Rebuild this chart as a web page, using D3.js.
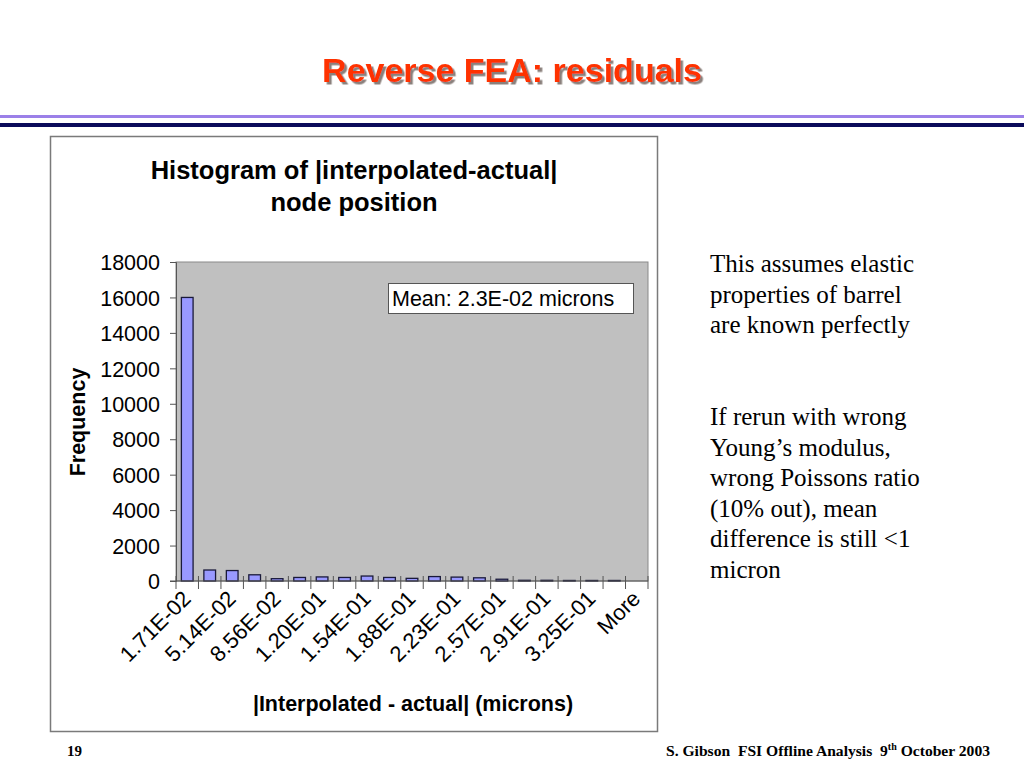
<!DOCTYPE html>
<html>
<head>
<meta charset="utf-8">
<script src="https://cdn.jsdelivr.net/npm/d3@7"></script>
<style>
  body { margin: 0; background: #fff; }
  svg { display: block; }
  text { white-space: pre; }
</style>
</head>
<body>
<script>
// histogram bins (upper edge labels) and counts
const categories = ["1.71E-02", "3.43E-02", "5.14E-02", "6.85E-02", "8.56E-02", "1.03E-01",
    "1.20E-01", "1.37E-01", "1.54E-01", "1.71E-01", "1.88E-01", "2.06E-01", "2.23E-01",
    "2.40E-01", "2.57E-01", "2.74E-01", "2.91E-01", "3.08E-01", "3.25E-01", "3.42E-01", "More"]
const counts = [16000, 620, 590, 350, 130, 200, 230, 200, 280, 200, 150, 250, 220, 180,
    100, 40, 40, 30, 30, 30, 0]
const yTicks = [0, 2000, 4000, 6000, 8000, 10000, 12000, 14000, 16000, 18000]
const shownLabels = ["1.71E-02", "5.14E-02", "8.56E-02", "1.20E-01", "1.54E-01", "1.88E-01",
    "2.23E-01", "2.57E-01", "2.91E-01", "3.25E-01", "More"]

const notes1 = ["This assumes elastic", "properties of barrel", "are known perfectly"]
const notes2 = ["If rerun with wrong", "Young\u2019s modulus,", "wrong Poissons ratio",
    "(10% out), mean", "difference is still <1", "micron"]

const W = 1024, H = 768
const helv = "Liberation Sans, Arial, Helvetica, sans-serif"
const times = "Liberation Serif, Times New Roman, serif"

const svg = d3.select("body").append("svg")
    .attr("width", W)
    .attr("height", H)

// drop shadow for the slide title
svg.append("defs").append("filter")
    .attr("id", "shadow")
    .attr("x", "-5%").attr("y", "-20%").attr("width", "110%").attr("height", "150%")
    .append("feDropShadow")
    .attr("dx", 2.5).attr("dy", 2.5).attr("stdDeviation", 0.6)
    .attr("flood-color", "#8a807c")
    .attr("flood-opacity", 1)

svg.append("text")
    .attr("x", 512).attr("y", 82)
    .attr("text-anchor", "middle")
    .attr("font-family", helv)
    .attr("font-weight", "bold")
    .attr("font-size", 34)
    .attr("fill", "#ff3300")
    .attr("filter", "url(#shadow)")
    .text("Reverse FEA: residuals")

// separator lines
svg.append("rect").attr("x", 0).attr("y", 115).attr("width", W).attr("height", 3).attr("fill", "#9b80e8")
svg.append("rect").attr("x", 0).attr("y", 123).attr("width", W).attr("height", 4).attr("fill", "#0a0a5a")

// chart frame
svg.append("rect")
    .attr("x", 50.5).attr("y", 136.5)
    .attr("width", 607).attr("height", 595)
    .attr("fill", "#fff")
    .attr("stroke", "#7a7a7a")
    .attr("stroke-width", 1.5)

svg.append("text")
    .attr("x", 354).attr("y", 179)
    .attr("text-anchor", "middle")
    .attr("font-family", helv).attr("font-weight", "bold").attr("font-size", 25.5)
    .text("Histogram of |interpolated-actual|")
svg.append("text")
    .attr("x", 354).attr("y", 211)
    .attr("text-anchor", "middle")
    .attr("font-family", helv).attr("font-weight", "bold").attr("font-size", 25.5)
    .text("node position")

// plot area
const plot = { left: 176, right: 648, top: 262, bottom: 581 }

const x = d3.scaleBand()
    .domain(categories)
    .range([plot.left, plot.right])
    .paddingInner(0.48)
    .paddingOuter(0.24)

const y = d3.scaleLinear()
    .domain([0, 18000])
    .range([plot.bottom, plot.top])

svg.append("rect")
    .attr("x", plot.left).attr("y", plot.top)
    .attr("width", plot.right - plot.left).attr("height", plot.bottom - plot.top)
    .attr("fill", "#c0c0c0")
    .attr("stroke", "#8a8a8a")

// bars
svg.append("g")
    .selectAll("rect")
    .data(counts)
    .enter().append("rect")
    .attr("x", (d, i) => x(categories[i]))
    .attr("y", d => y(d))
    .attr("width", x.bandwidth())
    .attr("height", d => y(0) - y(d))
    .attr("fill", "#9999ff")
    .attr("stroke", "#1a1a3a")
    .attr("stroke-width", 1.3)

// y axis
const yAxis = svg.append("g")
    .attr("transform", `translate(${plot.left},0)`)
    .call(d3.axisLeft(y).tickValues(yTicks).tickSize(6).tickPadding(10).tickFormat(d3.format("d")))
yAxis.select(".domain").attr("stroke", "#555")
yAxis.selectAll(".tick line").attr("stroke", "#555")
yAxis.selectAll("text")
    .attr("font-family", helv).attr("font-size", 21.5).attr("fill", "#000")
    .attr("dy", "0.36em")

// x axis: ticks at band boundaries
const step = x.step()
const boundaries = d3.range(categories.length + 1).map(i => plot.left + i * step)
svg.append("line")
    .attr("x1", plot.left - 6).attr("x2", plot.right)
    .attr("y1", plot.bottom).attr("y2", plot.bottom)
    .attr("stroke", "#555")
svg.append("g")
    .selectAll("line")
    .data(boundaries)
    .enter().append("line")
    .attr("x1", d => d).attr("x2", d => d)
    .attr("y1", plot.bottom - 5).attr("y2", plot.bottom + 8)
    .attr("stroke", "#555")

svg.append("g")
    .selectAll("text")
    .data(shownLabels)
    .enter().append("text")
    .attr("transform", d => `translate(${x(d) + x.bandwidth() / 2 + 5},${plot.bottom + 19}) rotate(-45)`)
    .attr("text-anchor", "end")
    .attr("font-family", helv).attr("font-size", 22)
    .text(d => d)

svg.append("text")
    .attr("x", 413).attr("y", 711)
    .attr("text-anchor", "middle")
    .attr("font-family", helv).attr("font-weight", "bold").attr("font-size", 21.5)
    .text("|Interpolated - actual| (microns)")

svg.append("text")
    .attr("transform", "translate(85,422) rotate(-90)")
    .attr("text-anchor", "middle")
    .attr("font-family", helv).attr("font-weight", "bold").attr("font-size", 21.5)
    .text("Frequency")

// mean annotation
svg.append("rect")
    .attr("x", 388.5).attr("y", 283.5)
    .attr("width", 245).attr("height", 30)
    .attr("fill", "#fff").attr("stroke", "#555")
svg.append("text")
    .attr("x", 392).attr("y", 306)
    .attr("font-family", helv).attr("font-size", 21.5)
    .text("Mean: 2.3E-02 microns")

// notes on the right
const notes = svg.append("g")
    .attr("font-family", times).attr("font-size", 25).attr("fill", "#000")
notes.selectAll(".n1")
    .data(notes1)
    .enter().append("text")
    .attr("x", 710).attr("y", (d, i) => 272 + i * 30.5)
    .text(d => d)
notes.selectAll(".n2")
    .data(notes2)
    .enter().append("text")
    .attr("x", 710).attr("y", (d, i) => 425 + i * 30.5)
    .text(d => d)

// footer
svg.append("text")
    .attr("x", 67).attr("y", 756)
    .attr("font-family", times).attr("font-weight", "bold").attr("font-size", 15)
    .text("19")
const foot = svg.append("text")
    .attr("x", 990).attr("y", 756)
    .attr("text-anchor", "end")
    .attr("font-family", times).attr("font-weight", "bold").attr("font-size", 15.6)
foot.append("tspan").text("S. Gibson  FSI Offline Analysis  9")
foot.append("tspan").attr("font-size", 10).attr("dy", -6).text("th")
foot.append("tspan").attr("dy", 6).text(" October 2003")
</script>
</body>
</html>
